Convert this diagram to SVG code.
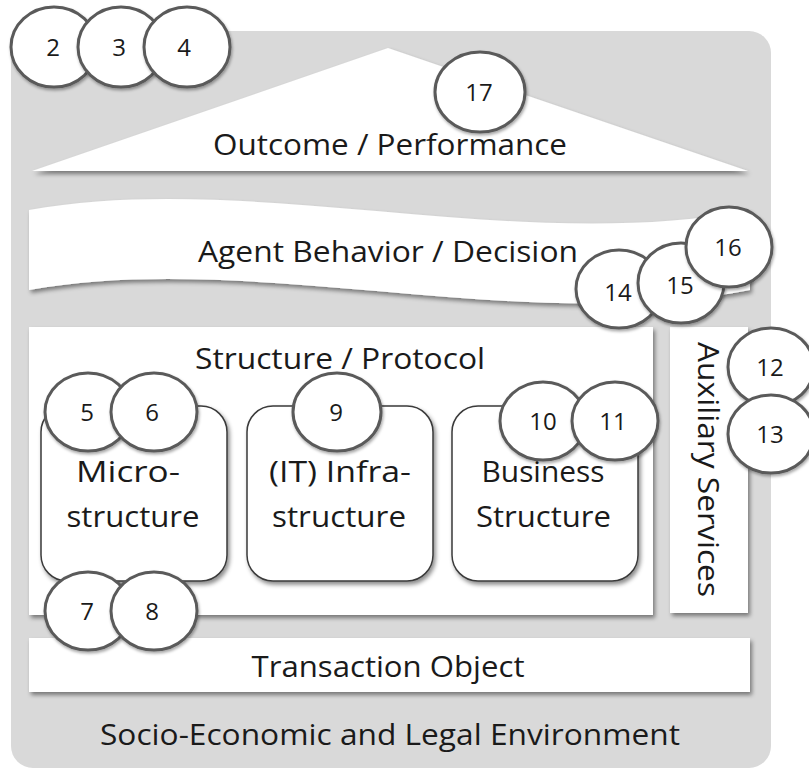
<svg xmlns="http://www.w3.org/2000/svg" width="809" height="771" viewBox="0 0 809 771">
<defs>
<filter id="sh" x="-10%" y="-10%" width="130%" height="140%">
<feDropShadow dx="2" dy="3" stdDeviation="2" flood-color="#000" flood-opacity="0.45"/>
</filter>
<filter id="shc" x="-20%" y="-20%" width="150%" height="150%">
<feDropShadow dx="1" dy="2" stdDeviation="1.5" flood-color="#000" flood-opacity="0.35"/>
</filter>
<style>
.t{font-family:"Open Sans","Noto Sans","DejaVu Sans",sans-serif;fill:#1a1a1a;text-anchor:middle}
.big{font-size:30px}
.mid{font-size:30px}
.num{font-size:24px}
.panel{fill:#fff}
.box{fill:#fff;stroke:#3a3a3a;stroke-width:1.5}
.c{fill:#fff;stroke:#5a5a5a;stroke-width:3}
</style>
</defs>
<rect id="environment" x="11" y="31" width="760" height="737" rx="22" fill="#d9d9d9"/>
<g id="outcome">
<polygon class="panel" filter="url(#sh)" points="32,171 388,48 748,171"/>
<text class="t big" x="390" y="155" textLength="354" lengthAdjust="spacingAndGlyphs">Outcome / Performance</text>
</g>
<g id="agent">
<path class="panel" filter="url(#sh)" d="M29,210 C250,170 520,255 750,210 L750,290 C520,335 250,250 29,290 Z"/>
<text class="t big" x="388" y="262" textLength="380" lengthAdjust="spacingAndGlyphs">Agent Behavior / Decision</text>
</g>
<g id="structure">
<rect class="panel" filter="url(#sh)" x="29" y="327" width="624" height="288"/>
<text class="t mid" x="340" y="369" textLength="290" lengthAdjust="spacingAndGlyphs">Structure / Protocol</text>
</g>
<g id="auxiliary">
<rect class="panel" filter="url(#sh)" x="670" y="327" width="78" height="286"/>
<text class="t mid" transform="translate(698,469.5) rotate(90)" x="0" y="0" textLength="255" lengthAdjust="spacingAndGlyphs">Auxiliary Services</text>
</g>
<g id="transaction">
<rect class="panel" filter="url(#sh)" x="29" y="638" width="721" height="54"/>
<text class="t mid" x="388" y="677" textLength="273" lengthAdjust="spacingAndGlyphs">Transaction Object</text>
</g>
<text class="t mid" x="390" y="745" textLength="580" lengthAdjust="spacingAndGlyphs">Socio-Economic and Legal Environment</text>
<g id="microstructure">
<rect class="box" filter="url(#sh)" x="41" y="406" width="186" height="175" rx="26"/>
<text class="t mid" x="128" y="482" textLength="104" lengthAdjust="spacingAndGlyphs">Micro-</text>
<text class="t mid" x="133" y="527" textLength="133" lengthAdjust="spacingAndGlyphs">structure</text>
</g>
<g id="infrastructure">
<rect class="box" filter="url(#sh)" x="247" y="406" width="186" height="175" rx="26"/>
<text class="t mid" x="340" y="482" textLength="142" lengthAdjust="spacingAndGlyphs">(IT) Infra-</text>
<text class="t mid" x="339" y="527" textLength="134" lengthAdjust="spacingAndGlyphs">structure</text>
</g>
<g id="business">
<rect class="box" filter="url(#sh)" x="452" y="406" width="186" height="175" rx="26"/>
<text class="t mid" x="543" y="482" textLength="123" lengthAdjust="spacingAndGlyphs">Business</text>
<text class="t mid" x="543.5" y="527" textLength="135" lengthAdjust="spacingAndGlyphs">Structure</text>
</g>
<g id="c2"><ellipse class="c" filter="url(#shc)" cx="54" cy="47" rx="43" ry="40"/><text class="t num" x="53" y="56">2</text></g>
<g id="c3"><ellipse class="c" filter="url(#shc)" cx="121" cy="47" rx="43" ry="40"/><text class="t num" x="119" y="56">3</text></g>
<g id="c4"><ellipse class="c" filter="url(#shc)" cx="187" cy="47" rx="43" ry="40"/><text class="t num" x="184" y="56">4</text></g>
<g id="c17"><ellipse class="c" filter="url(#shc)" cx="480" cy="92" rx="45" ry="40"/><text class="t num" x="479" y="101">17</text></g>
<g id="c14"><ellipse class="c" filter="url(#shc)" cx="619" cy="289" rx="43" ry="39"/><text class="t num" x="618" y="301">14</text></g>
<g id="c15"><ellipse class="c" filter="url(#shc)" cx="681" cy="283" rx="43" ry="40"/><text class="t num" x="680" y="294">15</text></g>
<g id="c16"><ellipse class="c" filter="url(#shc)" cx="729" cy="247" rx="43" ry="40"/><text class="t num" x="728" y="256">16</text></g>
<g id="c5"><ellipse class="c" filter="url(#shc)" cx="88" cy="412" rx="43" ry="39"/><text class="t num" x="87" y="421">5</text></g>
<g id="c6"><ellipse class="c" filter="url(#shc)" cx="154" cy="412" rx="43" ry="39"/><text class="t num" x="152" y="421">6</text></g>
<g id="c9"><ellipse class="c" filter="url(#shc)" cx="337" cy="412" rx="44" ry="39"/><text class="t num" x="336" y="421">9</text></g>
<g id="c10"><ellipse class="c" filter="url(#shc)" cx="543" cy="421" rx="43" ry="39"/><text class="t num" x="543" y="430">10</text></g>
<g id="c11"><ellipse class="c" filter="url(#shc)" cx="615" cy="421" rx="43" ry="39"/><text class="t num" x="613" y="430">11</text></g>
<g id="c12"><ellipse class="c" filter="url(#shc)" cx="771" cy="367" rx="43" ry="39"/><text class="t num" x="770" y="376">12</text></g>
<g id="c13"><ellipse class="c" filter="url(#shc)" cx="771" cy="434" rx="43" ry="39"/><text class="t num" x="770" y="443">13</text></g>
<g id="c7"><ellipse class="c" filter="url(#shc)" cx="88" cy="611" rx="43" ry="39"/><text class="t num" x="87" y="620">7</text></g>
<g id="c8"><ellipse class="c" filter="url(#shc)" cx="154" cy="611" rx="43" ry="39"/><text class="t num" x="152" y="620">8</text></g>
<g id="connectors"/>
</svg>
